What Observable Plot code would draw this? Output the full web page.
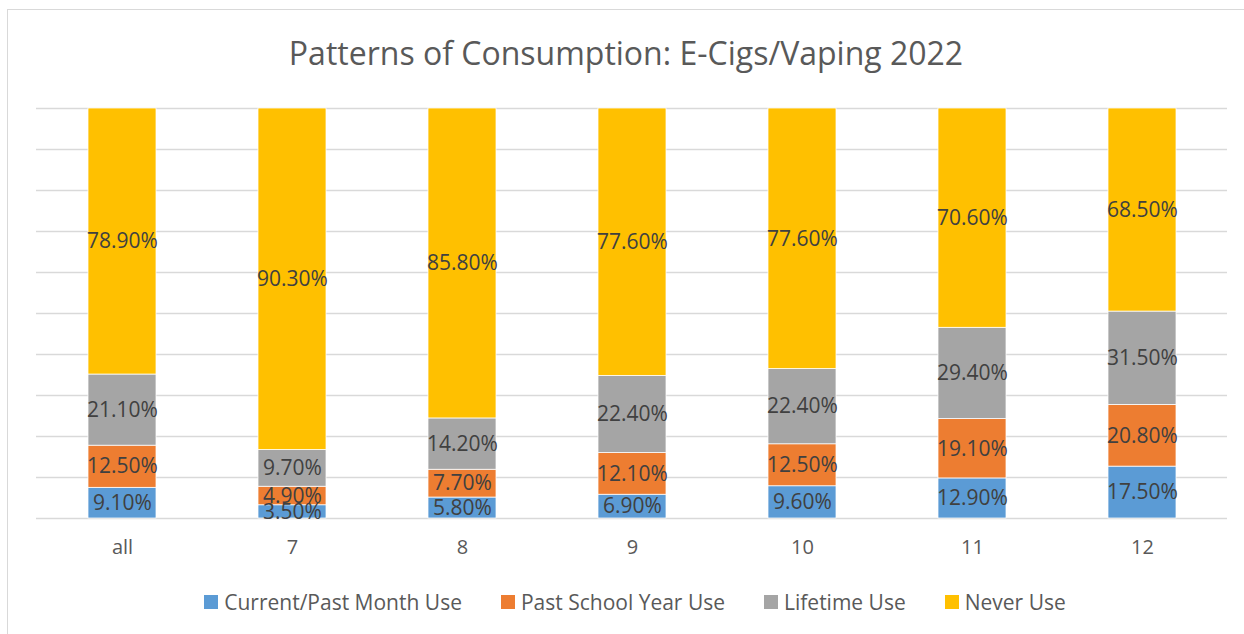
<!DOCTYPE html>
<html>
<head>
<meta charset="utf-8">
<script src="https://cdn.jsdelivr.net/npm/d3@7"></script>
<script src="https://cdn.jsdelivr.net/npm/@observablehq/plot@0.6"></script>
<style>
  html, body { margin: 0; padding: 0; background: #fff; }
  body { width: 1244px; height: 634px; position: relative; overflow: hidden; font-family: "Open Sans", sans-serif; }
  #frame { position: absolute; left: 7px; top: 9px; width: 1300px; height: 700px; border: 1.5px solid #d9d9d9; box-sizing: border-box; }
  #title { position: absolute; left: 0; width: 1252px; top: 31px; text-align: center; font-size: 32px; line-height: 44px; color: #595959; }
  #chart { position: absolute; left: 0; top: 90px; }
  #legend { position: absolute; left: 0; width: 1270px; top: 588px; display: flex; justify-content: center; gap: 39px; font-size: 21px; line-height: 28px; color: #595959; }
  .item { display: flex; align-items: center; gap: 6px; }
  .swatch { width: 14px; height: 14px; display: inline-block; }
</style>
</head>
<body>
<div id="frame"></div>
<div id="title">Patterns of Consumption: E-Cigs/Vaping 2022</div>
<div id="chart"></div>
<div id="legend"></div>
<script>
// Grades surveyed
const categories = ["all", "7", "8", "9", "10", "11", "12"];

// Series names and colours
const series = ["Current/Past Month Use", "Past School Year Use", "Lifetime Use", "Never Use"];
const colors = ["#5B9BD5", "#ED7D31", "#A5A5A5", "#FFC000"];

// Percentages per grade
const currentMonth   = [9.1, 3.5, 5.8, 6.9, 9.6, 12.9, 17.5];
const pastSchoolYear = [12.5, 4.9, 7.7, 12.1, 12.5, 19.1, 20.8];
const lifetime       = [21.1, 9.7, 14.2, 22.4, 22.4, 29.4, 31.5];
const neverUse       = [78.9, 90.3, 85.8, 77.6, 77.6, 70.6, 68.5];

const seriesValues = [currentMonth, pastSchoolYear, lifetime, neverUse];
const rows = series.flatMap((s, i) =>
  categories.map((c, j) => ({category: c, series: s, value: seriesValues[i][j]}))
);

const chart = Plot.plot({
  width: 1244,
  height: 485,
  marginTop: 18,
  marginBottom: 57,
  marginLeft: 36,
  marginRight: 17,
  style: {fontFamily: "'Open Sans', sans-serif", background: "transparent"},
  x: {domain: categories, paddingInner: 0.6, paddingOuter: 0.3, axis: null},
  y: {domain: [0, 1], axis: null},
  color: {domain: series, range: colors},
  marks: [
    Plot.gridY({ticks: 10, stroke: "#d9d9d9", strokeOpacity: 1, strokeWidth: 1.3}),
    Plot.barY(rows, {
      x: "category", y: "value", fill: "series", order: series,
      offset: "normalize", stroke: "#ffffff", strokeWidth: 0.75
    }),
    Plot.text(rows, Plot.stackY({
      x: "category", y: "value", z: "series", order: series, offset: "normalize",
      text: d => d.value.toFixed(2) + "%", fill: "#404040", fontSize: 21
    })),
    Plot.text(categories, {
      x: d => d, text: d => d, frameAnchor: "bottom", dy: 35,
      fill: "#595959", fontSize: 20
    })
  ]
});
document.getElementById("chart").appendChild(chart);

// Legend below the plot
const legend = document.getElementById("legend");
series.forEach((s, i) => {
  const item = document.createElement("div");
  item.className = "item";
  const sw = document.createElement("span");
  sw.className = "swatch";
  sw.style.background = colors[i];
  const label = document.createElement("span");
  label.textContent = s;
  item.appendChild(sw);
  item.appendChild(label);
  legend.appendChild(item);
});
</script>
</body>
</html>
